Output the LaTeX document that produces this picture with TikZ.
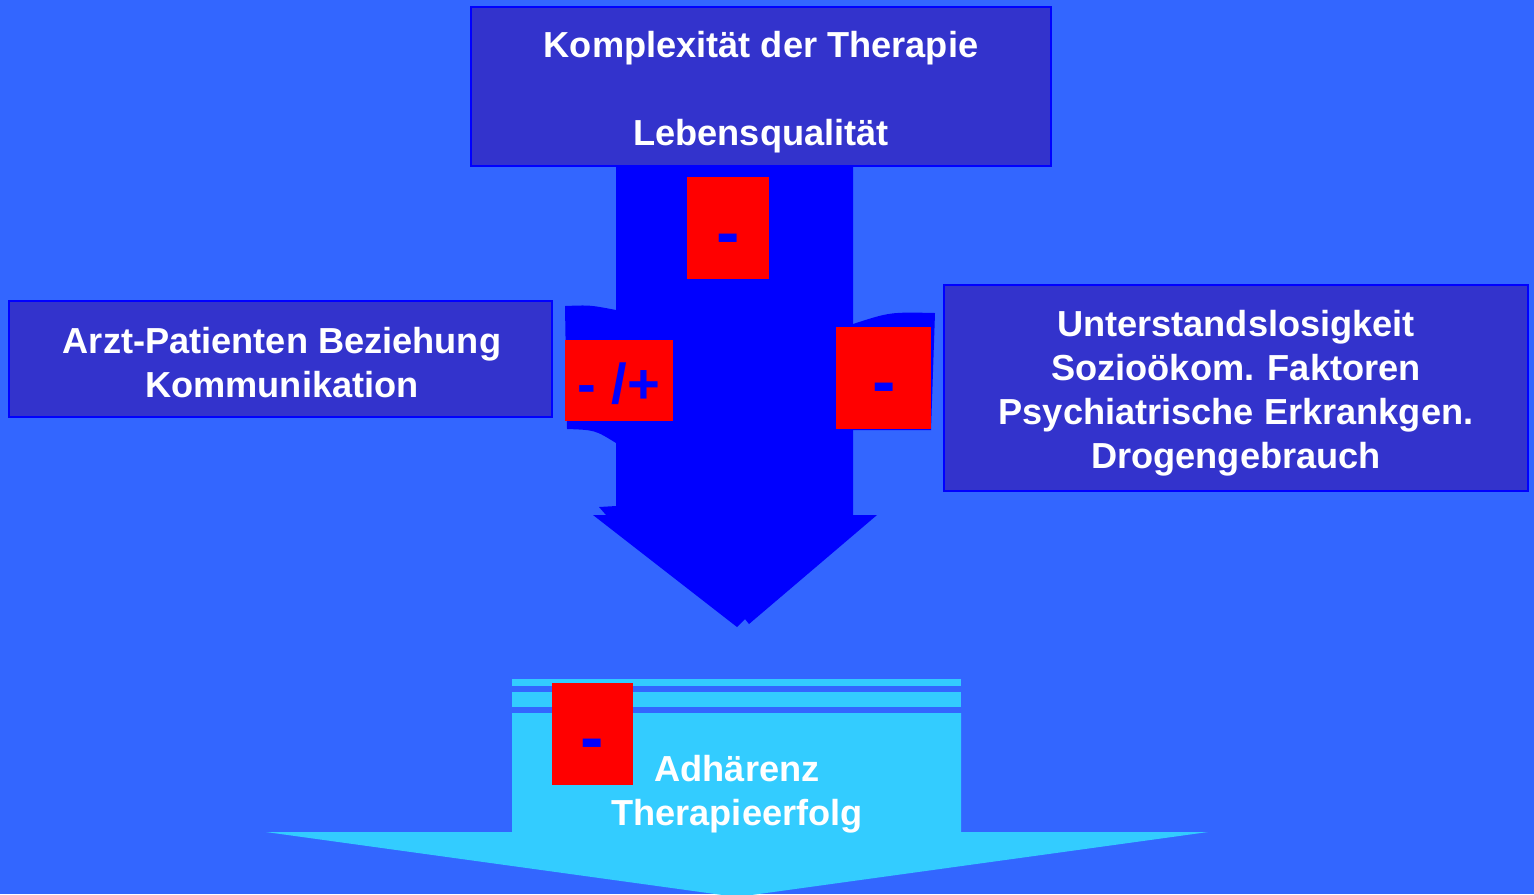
\documentclass[tikz,border=0pt]{standalone}
\usepackage{fontspec}
\setmainfont{Liberation Sans}
\usepackage{xcolor}
\usetikzlibrary{positioning}

\definecolor{bgblue}{HTML}{3366FF}
\definecolor{boxblue}{HTML}{3333CC}
\definecolor{arrblue}{HTML}{0000FF}
\definecolor{lightcyan}{HTML}{33CCFF}
\definecolor{signred}{HTML}{FF0000}

\begin{document}
\begin{tikzpicture}[x=0.02cm, y=-0.02cm,
  infobox/.style={rectangle, draw=arrblue, line width=0.8pt, fill=boxblue, inner sep=0pt},
  signbox/.style={rectangle, fill=signred, inner sep=0pt},
  signtxt/.style={inner sep=0pt, text=arrblue, font=\fontsize{#1}{#1}\selectfont\bfseries},
  signtxt/.default=40pt,
  lbl/.style={inner sep=0pt, align=center, text=white,
              font=\fontsize{20.6pt}{25pt}\selectfont\bfseries}
]
\useasboundingbox (0,0) rectangle (1534,894);
\fill[bgblue] (0,0) rectangle (1534,894);
\clip (0,0) rectangle (1534,894);

% main arrow with its side pieces
\fill[arrblue] (616,160) -- (853,160) -- (853,515) -- (877,515) -- (749,624)
  -- (745,619) -- (737,627) -- (593,515) -- (606,515) -- (599,507)
  -- (616,506) -- cycle;
\fill[arrblue] (565,306) .. controls (590,305) .. (616,310) -- (616,443)
  .. controls (595,430) .. (567,429) -- cycle;
\fill[arrblue] (853,324) .. controls (890,312) .. (935,313) -- (931,430)
  -- (853,430) -- cycle;

% factor boxes
\node[infobox, minimum width=11.6cm, minimum height=3.18cm] (therapie) at (761,86.5) {};
\node[infobox, minimum width=10.86cm, minimum height=2.32cm] (arzt) at (280.5,359) {};
\node[infobox, minimum width=11.68cm, minimum height=4.12cm] (sozial) at (1236,388) {};
\node[lbl] (therapie-txt) at ([yshift=-0.11cm]therapie.center)
  {Komplexität der Therapie\\[25pt]Lebensqualität};
\node[lbl] (arzt-txt) at ([xshift=0.03cm, yshift=-0.07cm]arzt.center)
  {Arzt-Patienten Beziehung\\Kommunikation};
\node[lbl] (sozial-txt) at ([yshift=-0.1cm]sozial.center)
  {Unterstandslosigkeit\\Sozioökom. Faktoren\\Psychiatrische Erkrankgen.\\Drogengebrauch};

% target arrow
\fill[lightcyan] (512,679) rectangle (961,686);
\fill[lightcyan] (512,692) rectangle (961,707);
\fill[lightcyan] (512,713) -- (961,713) -- (961,832) -- (1208,832) -- (737,897)
  -- (266,832) -- (512,832) -- cycle;
\node[lbl] (ziel) at (737,794) {Adhärenz\\Therapieerfolg};

% signs
\node[signbox, minimum width=1.64cm, minimum height=2.04cm] (s1) at (728,228) {};
\node[signbox, minimum width=2.16cm, minimum height=1.62cm] (s2) at (619,380.5) {};
\node[signbox, minimum width=1.9cm, minimum height=2.04cm] (s3) at (883.5,378) {};
\node[signbox, minimum width=1.62cm, minimum height=2.04cm] (s4) at (592.5,734) {};

\node[signtxt] (m1) at (728,245) {-};
\node[signtxt=32pt] (m2) at (619,384) {- /+};
\node[signtxt] (m3) at (884.5,394) {-};
\node[signtxt] (m4) at (592.5,750) {-};
\end{tikzpicture}
\end{document}
